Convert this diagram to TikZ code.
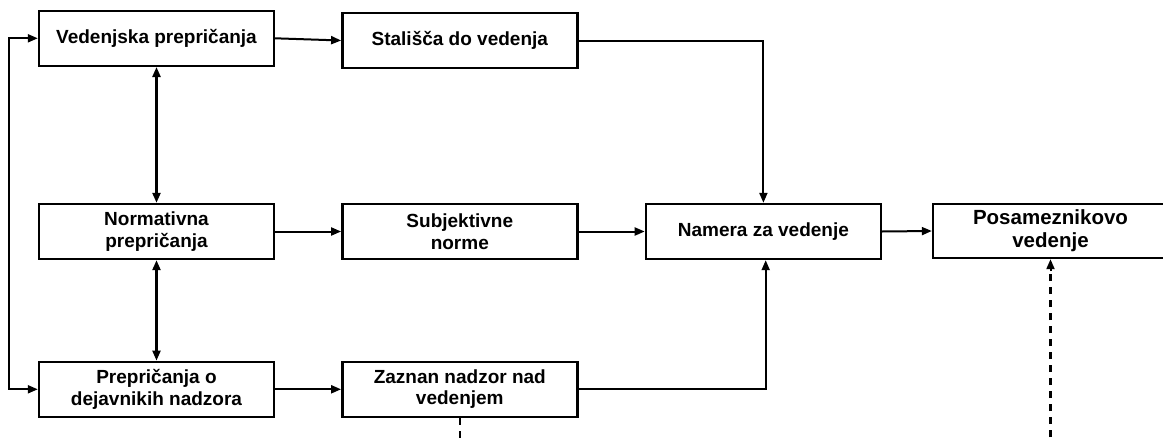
\documentclass[tikz,border=0pt]{standalone}
\usepackage{fontspec}
\setmainfont{Liberation Sans}
\usetikzlibrary{arrows.meta}

\begin{document}
\begin{tikzpicture}[x=1pt,y=-1pt,
  box/.style={draw, line width=2.4pt, inner sep=0pt, align=center,
    minimum width=235pt, minimum height=55pt,
    font=\fontsize{19}{21.5}\selectfont\bfseries},
  tip/.style={Triangle[length=10pt,width=8pt]},
  conn/.style={line width=2pt, -{Triangle[length=10pt,width=8pt]}},
  both/.style={line width=2.2pt, {Triangle[length=10pt,width=8pt]}-{Triangle[length=10pt,width=8pt]}},
  dashconn/.style={line width=2.2pt, dash pattern=on 7pt off 6pt}
]
\useasboundingbox (0,0) rectangle (1163,439);
\clip (0,0) rectangle (1163,439);

% belief boxes (left column)
\node[box] (A) at (156.5,38.3)  {Vedenjska prepričanja};
\node[box] (C) at (156.5,231.5) {Normativna\\prepričanja};
\node[box] (G) at (156.5,389.3) {Prepričanja o\\dejavnikih nadzora};

% attitude / norm / control boxes (middle column)
\node[box] (B) at (459.8,40.5)  {Stališča do vedenja};
\node[box] (D) at (459.8,231.5) {Subjektivne\\norme};
\node[box] (H) at (459.8,389.3) {Zaznan nadzor nad\\vedenjem};

% intention and behaviour
\node[box] (E) at (763.4,231.5) {Namera za vedenje};
\node[box, minimum height=54pt, font=\fontsize{20.5}{23}\selectfont\bfseries]
  (F) at (1050.5,231) {Posameznikovo\\vedenje};

% connectors
\draw[conn] (A.east) -- (B.west);
\draw[conn] (B.east) -| (E.north);
\draw[conn] (C.east) -- (D.west);
\draw[conn] (D.east) -- (E.west);
\draw[conn] (E.east) -- (F.west);
\draw[conn] (G.east) -- (H.west);
\draw[conn] (H.east) -| ([xshift=2.3pt]E.south);

\draw[both] (A.south) -- (C.north);
\draw[both] (C.south) -- (G.north);

% feedback loop on the left
\coordinate (L) at (9,38.3);
\draw[both, line width=2pt] (A.west) -- (L) |- (G.west);

% dashed links leaving the frame
\coordinate (Hd) at (459.8,450);
\coordinate (Fd) at (1050.5,450);
\draw[dashconn] (H.south) -- (Hd);
\draw[dashconn] (Fd) -- ([yshift=-12pt]F.south);
\draw[conn] ([yshift=-12pt]F.south) -- (F.south);
\end{tikzpicture}
\end{document}
